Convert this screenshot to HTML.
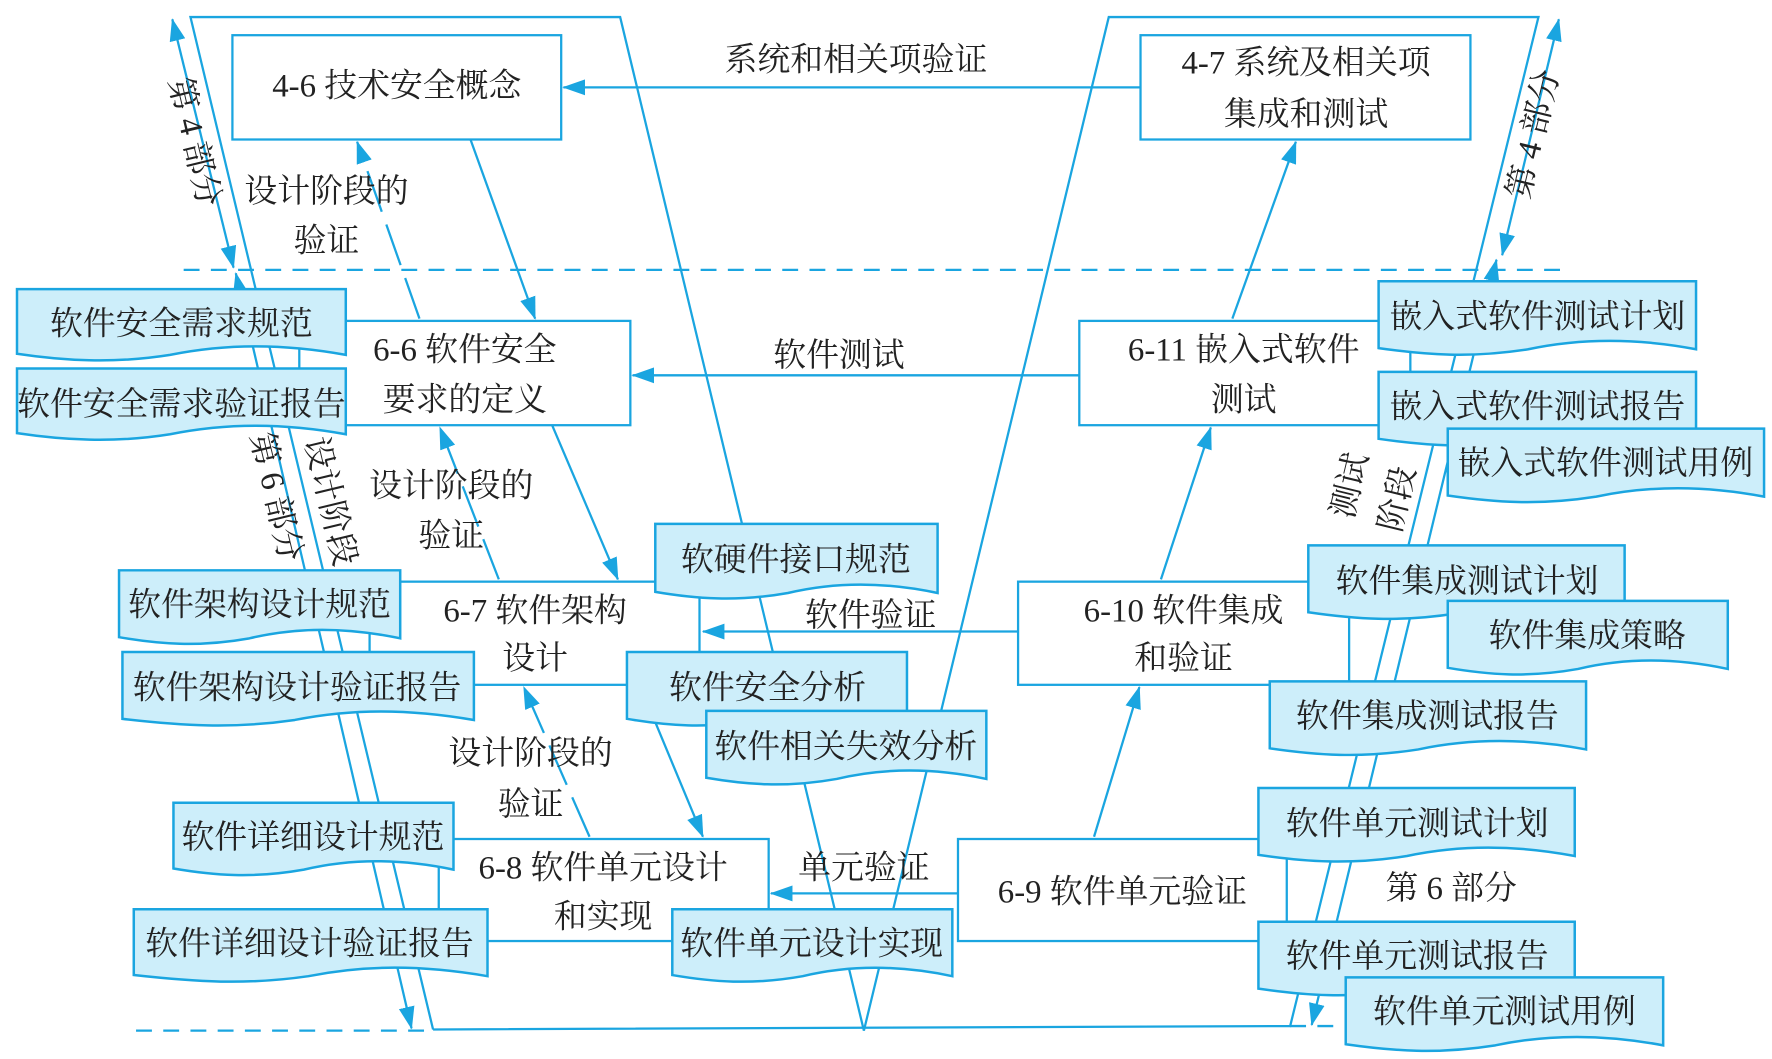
<!DOCTYPE html>
<html><head><meta charset="utf-8"><style>
html,body{margin:0;padding:0;background:#fff;}
svg{display:block;}
text{font-family:"Liberation Serif","Noto Serif CJK SC",serif;fill:#222;font-size:29px;}
</style></head><body>
<svg width="1772" height="1059" viewBox="0 0 1563 934" xmlns="http://www.w3.org/2000/svg">
<defs>
<marker id="a" viewBox="0 0 20 14" refX="19" refY="7" markerWidth="20" markerHeight="14" markerUnits="userSpaceOnUse" orient="auto"><path d="M0,0 L20,7 L0,14 z" fill="#1aa5e0"/></marker>
<marker id="s" viewBox="0 0 20 14" refX="1" refY="7" markerWidth="20" markerHeight="14" markerUnits="userSpaceOnUse" orient="auto"><path d="M20,0 L0,7 L20,14 z" fill="#1aa5e0"/></marker>
</defs>
<g stroke="#1aa5e0" stroke-width="2" fill="none">
<line x1="162" y1="238" x2="1378" y2="238" stroke-dasharray="14,10"/>
<line x1="120" y1="909" x2="382" y2="909" stroke-dasharray="14,10"/>
<line x1="1138" y1="905" x2="1185" y2="905" stroke-dasharray="14,10"/>
<polyline points="382,908 168,15 547,15 762,909 978,15 1357,15 1138,905 382,908"/>
<line x1="152" y1="17" x2="206" y2="236" marker-start="url(#s)" marker-end="url(#a)"/>
<line x1="208" y1="241" x2="363" y2="907" marker-start="url(#s)" marker-end="url(#a)"/>
<line x1="1375" y1="17" x2="1325" y2="225" marker-start="url(#s)" marker-end="url(#a)"/>
<line x1="1320" y1="229" x2="1157" y2="904" marker-start="url(#s)" marker-end="url(#a)"/>
<rect x="205" y="31" width="290" height="92"/>
<rect x="1006" y="31" width="291" height="92"/>
<rect x="264" y="283" width="292" height="92"/>
<rect x="952" y="283" width="292" height="92"/>
<rect x="326" y="513" width="291" height="91"/>
<rect x="898" y="513" width="292" height="91"/>
<rect x="387" y="740" width="291" height="90"/>
<rect x="845" y="740" width="290" height="90"/>
<line x1="1006" y1="77" x2="497" y2="77" marker-end="url(#a)"/>
<line x1="415" y1="123" x2="472" y2="281" marker-end="url(#a)"/>
<line x1="370" y1="281" x2="315" y2="125" stroke-dasharray="38,12" marker-end="url(#a)"/>
<line x1="952" y1="331" x2="558" y2="331" marker-end="url(#a)"/>
<line x1="1087" y1="281" x2="1143" y2="125" marker-end="url(#a)"/>
<line x1="487" y1="375" x2="545" y2="511" marker-end="url(#a)"/>
<line x1="440" y1="511" x2="388" y2="377" stroke-dasharray="38,12" marker-end="url(#a)"/>
<line x1="898" y1="557" x2="620" y2="557" marker-end="url(#a)"/>
<line x1="1024" y1="511" x2="1068" y2="377" marker-end="url(#a)"/>
<line x1="578" y1="637" x2="620" y2="738" marker-end="url(#a)"/>
<line x1="520" y1="738" x2="462" y2="606" stroke-dasharray="38,12" marker-end="url(#a)"/>
<line x1="845" y1="788" x2="680" y2="788" marker-end="url(#a)"/>
<line x1="965" y1="738" x2="1005" y2="606" marker-end="url(#a)"/>
</g>
<g stroke="#1aa5e0" stroke-width="2.2" fill="#cdeefa">
<path d="M15,255 H305 V313 C250,303 200,303 150,313 C100,321 55,318 15,312 Z"/>
<path d="M15,325 H305 V383 C250,373 200,373 150,383 C100,391 55,388 15,382 Z"/>
<path d="M105,503 H353 V563 C305,553 262,553 220,563 C175,571 140,568 105,562 Z"/>
<path d="M108,575 H418 V635 C360,625 310,625 260,635 C205,643 160,640 108,634 Z"/>
<path d="M578,462 H827 V523 C780,513 737,513 695,523 C650,531 613,528 578,522 Z"/>
<path d="M553,575 H800 V635 C753,625 710,625 668,635 C623,643 588,640 553,634 Z"/>
<path d="M623,627 H870 V687 C823,677 780,677 738,687 C693,695 658,692 623,686 Z"/>
<path d="M153,708 H400 V767 C353,757 310,757 268,767 C223,775 188,772 153,766 Z"/>
<path d="M118,802 H430 V861 C372,851 322,851 272,861 C217,869 172,866 118,860 Z"/>
<path d="M593,802 H840 V861 C793,851 750,851 708,861 C663,869 628,866 593,860 Z"/>
<path d="M1216,248 H1496 V308 C1443,298 1395,298 1348,308 C1297,316 1258,313 1216,307 Z"/>
<path d="M1216,328 H1496 V388 C1443,378 1395,378 1348,388 C1297,396 1258,393 1216,387 Z"/>
<path d="M1277,378 H1556 V438 C1503,428 1455,428 1408,438 C1357,446 1318,443 1277,437 Z"/>
<path d="M1154,481 H1433 V541 C1380,531 1332,531 1285,541 C1234,549 1195,546 1154,540 Z"/>
<path d="M1277,530 H1524 V590 C1477,580 1434,580 1392,590 C1347,598 1312,595 1277,589 Z"/>
<path d="M1120,601 H1399 V661 C1346,651 1298,651 1251,661 C1200,669 1161,666 1120,660 Z"/>
<path d="M1110,695 H1389 V755 C1336,745 1288,745 1241,755 C1190,763 1151,760 1110,754 Z"/>
<path d="M1110,813 H1389 V873 C1336,863 1288,863 1241,873 C1190,881 1151,878 1110,872 Z"/>
<path d="M1187,862 H1467 V922 C1414,912 1366,912 1319,922 C1268,930 1229,927 1187,921 Z"/>
</g>
<g text-anchor="middle">
<text x="160" y="295">软件安全需求规范</text>
<text x="160" y="366">软件安全需求验证报告</text>
<text x="229" y="543">软件架构设计规范</text>
<text x="262" y="616">软件架构设计验证报告</text>
<text x="702" y="503">软硬件接口规范</text>
<text x="677" y="616">软件安全分析</text>
<text x="746" y="668">软件相关失效分析</text>
<text x="276" y="748">软件详细设计规范</text>
<text x="273" y="842">软件详细设计验证报告</text>
<text x="716" y="842">软件单元设计实现</text>
<text x="1356" y="289">嵌入式软件测试计划</text>
<text x="1356" y="368">嵌入式软件测试报告</text>
<text x="1416" y="418">嵌入式软件测试用例</text>
<text x="1294" y="522">软件集成测试计划</text>
<text x="1400" y="570">软件集成策略</text>
<text x="1259" y="641">软件集成测试报告</text>
<text x="1250" y="736">软件单元测试计划</text>
<text x="1250" y="853">软件单元测试报告</text>
<text x="1327" y="902">软件单元测试用例</text>

<text x="350" y="85">4-6 技术安全概念</text>
<text x="1152" y="65">4-7 系统及相关项</text>
<text x="1152" y="110">集成和测试</text>
<text x="410" y="318">6-6 软件安全</text>
<text x="410" y="362">要求的定义</text>
<text x="1097" y="318">6-11 嵌入式软件</text>
<text x="1097" y="362">测试</text>
<text x="472" y="548">6-7 软件架构</text>
<text x="472" y="590">设计</text>
<text x="1044" y="548">6-10 软件集成</text>
<text x="1044" y="590">和验证</text>
<text x="532" y="775">6-8 软件单元设计</text>
<text x="532" y="818">和实现</text>
<text x="990" y="796">6-9 软件单元验证</text>

<text x="755" y="62">系统和相关项验证</text>
<text x="288" y="178">设计阶段的</text>
<text x="288" y="222">验证</text>
<text x="740" y="323">软件测试</text>
<text x="398" y="438">设计阶段的</text>
<text x="398" y="482">验证</text>
<text x="768" y="552">软件验证</text>
<text x="468" y="674">设计阶段的</text>
<text x="468" y="719">验证</text>
<text x="762" y="775">单元验证</text>
<text x="1280" y="793">第 6 部分</text>

<text transform="translate(172,125) rotate(76.5)" y="10">第 4 部分</text>
<text transform="translate(244,438) rotate(76.5)" y="10">第 6 部分</text>
<text transform="translate(292,442) rotate(76.5)" y="10">设计阶段</text>
<text transform="translate(1352,118) rotate(-76.5)" y="10">第 4 部分</text>
<text transform="translate(1190,428) rotate(-76.5)" y="10">测试</text>
<text transform="translate(1232,440) rotate(-76.5)" y="10">阶段</text>
</g>
</svg>
</body></html>
